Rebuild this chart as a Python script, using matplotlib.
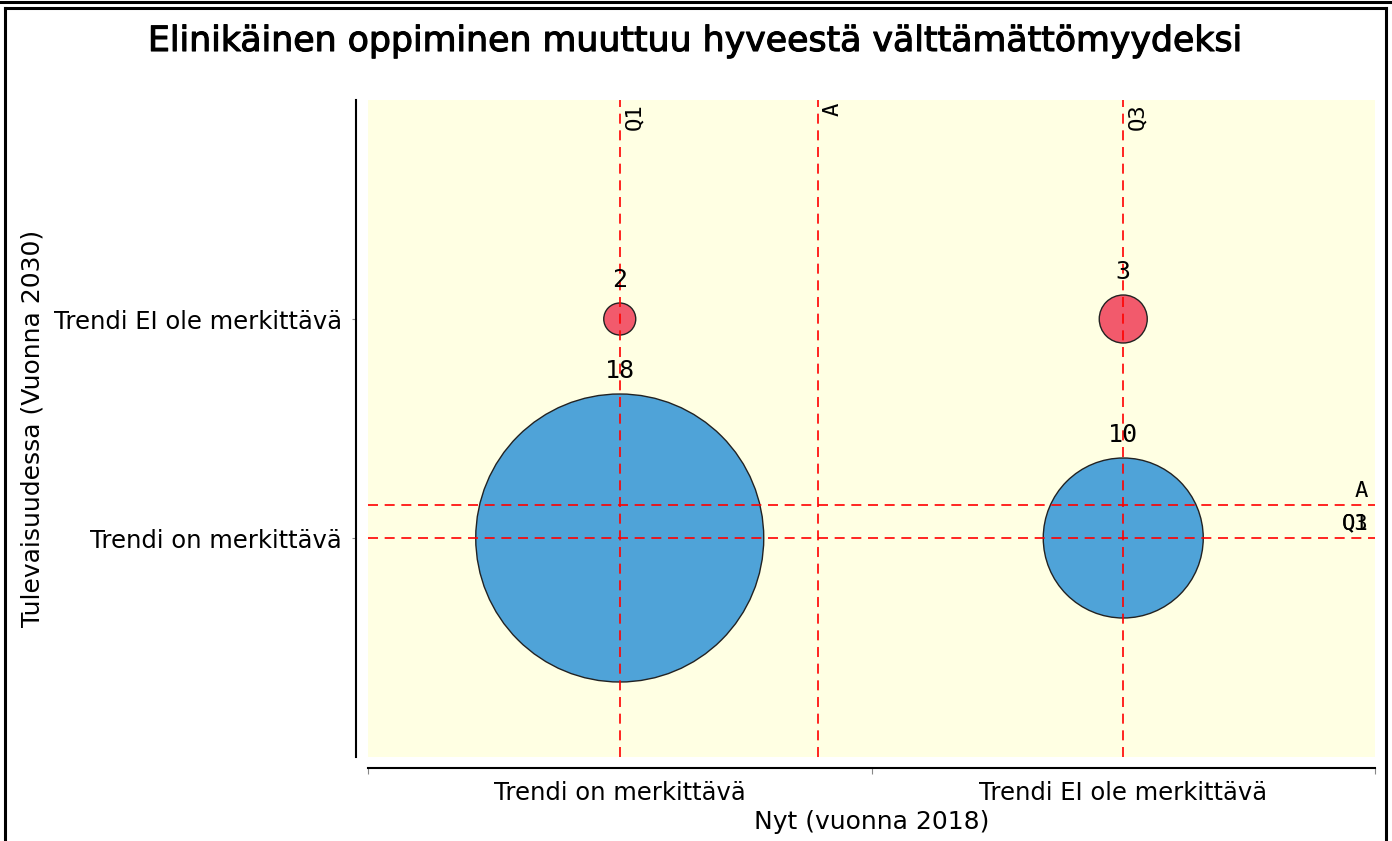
import matplotlib
matplotlib.use("Agg")
import matplotlib.pyplot as plt
from matplotlib.lines import Line2D
import matplotlib.patheffects as pe

# Data
categories = ["Trendi on merkittävä", "Trendi EI ole merkittävä"]
bubble_x = [0, 1, 0, 1]
bubble_y = [0, 0, 1, 1]
bubble_n = [18, 10, 2, 3]
bubble_colors = ["#4FA3D8", "#4FA3D8", "#F25A6C", "#F25A6C"]
title = "Elinikäinen oppiminen muuttuu hyveestä välttämättömyydeksi"
xlabel = "Nyt (vuonna 2018)"
ylabel = "Tulevaisuudessa (Vuonna 2030)"

W, H, DPI = 1392, 841, 100
PT = 72 / DPI  # points per pixel
fig = plt.figure(figsize=(W / DPI, H / DPI), dpi=DPI)
fig.patch.set_facecolor("white")

# frame
fig.add_artist(Line2D([0, 1], [1 - 1.5 / H, 1 - 1.5 / H], transform=fig.transFigure, color="black", lw=2.2))
fig.add_artist(Line2D([4.5 / W, 1385.5 / W], [1 - 7.5 / H, 1 - 7.5 / H], transform=fig.transFigure, color="black", lw=2.2))
fig.add_artist(Line2D([4.5 / W, 4.5 / W], [0, 1 - 7.5 / H], transform=fig.transFigure, color="black", lw=2.2))
fig.add_artist(Line2D([1385.5 / W, 1385.5 / W], [0, 1 - 7.5 / H], transform=fig.transFigure, color="black", lw=2.2))

left, right, top, bottom = 368, 1375, 100, 757
ax = fig.add_axes([left / W, 1 - bottom / H, (right - left) / W, (bottom - top) / H])
ax.set_facecolor("#FFFFE3")
ax.set_xlim(-0.5, 1.5)
ax.set_ylim(-1.0, 2.0)

# mean / quartile lines
n_total = sum(bubble_n)
mean_x = sum(x * n for x, n in zip(bubble_x, bubble_n)) / n_total
mean_y = sum(y * n for y, n in zip(bubble_y, bubble_n)) / n_total
q1x, q3x = 0, 1
q1y, q3y = 0, 0
for xv in [q1x, mean_x, q3x]:
    ax.axvline(xv, color="#FF0000", ls=(0, (6, 4)), lw=1.2, zorder=3)
for yv in [mean_y, q1y]:
    ax.axhline(yv, color="#FF0000", ls=(0, (6, 4)), lw=1.2, zorder=3)

mono = "DejaVu Sans Mono"
for xv, lab in [(q1x, "Q1"), (mean_x, "A"), (q3x, "Q3")]:
    ax.annotate(lab, (xv, 2.0), xytext=(3, -2), textcoords="offset points",
                rotation=90, ha="left", va="top", fontsize=16, family=mono, zorder=4)
for yv, lab in [(mean_y, "A"), (q1y, "Q1"), (q3y, "Q3")]:
    ax.annotate(lab, (1.5, yv), xytext=(-5, 3), textcoords="offset points",
                ha="right", va="bottom", fontsize=16, family=mono, zorder=4)

# bubbles: diameter proportional to count (16 px per unit)
sizes = [(16 * n * PT) ** 2 for n in bubble_n]
ax.scatter(bubble_x, bubble_y, s=sizes, c=bubble_colors, edgecolors="#222222", linewidths=1.0, zorder=2)
for x, y, n in zip(bubble_x, bubble_y, bubble_n):
    ax.annotate(str(n), (x, y), xytext=(0, (8 * n + 23) * PT), textcoords="offset points",
                ha="center", va="center", fontsize=18, family=mono, zorder=5)

# axes styling
for s in ["top", "right"]:
    ax.spines[s].set_visible(False)
ax.spines["left"].set_position(("outward", 12 * PT))
ax.spines["bottom"].set_position(("outward", 11 * PT))
ax.spines["left"].set_linewidth(1.5)
ax.spines["bottom"].set_linewidth(1.5)

fs = 17.5
ax.set_xticks([-0.5, 0.5, 1.5])
ax.set_xticklabels([])
ax.set_xticks([0, 1], minor=True)
ax.set_xticklabels(categories, minor=True, fontsize=fs)
ax.tick_params(axis="x", which="major", length=4, color="#888888")
ax.tick_params(axis="x", which="minor", length=0, pad=9)
ax.set_yticks([0, 1])
ax.set_yticklabels(categories, fontsize=fs)
ax.tick_params(axis="y", length=3, color="#888888", pad=7)

ax.set_xlabel(xlabel, fontsize=18, labelpad=4)
ax.set_ylabel(ylabel, fontsize=18, labelpad=7)

fig.text(695 / W, 1 - 41 / H, title, ha="center", va="center", fontsize=25, family="DejaVu Sans",
         path_effects=[pe.withStroke(linewidth=0.8, foreground="black")])

fig.savefig("out.png", dpi=DPI)
